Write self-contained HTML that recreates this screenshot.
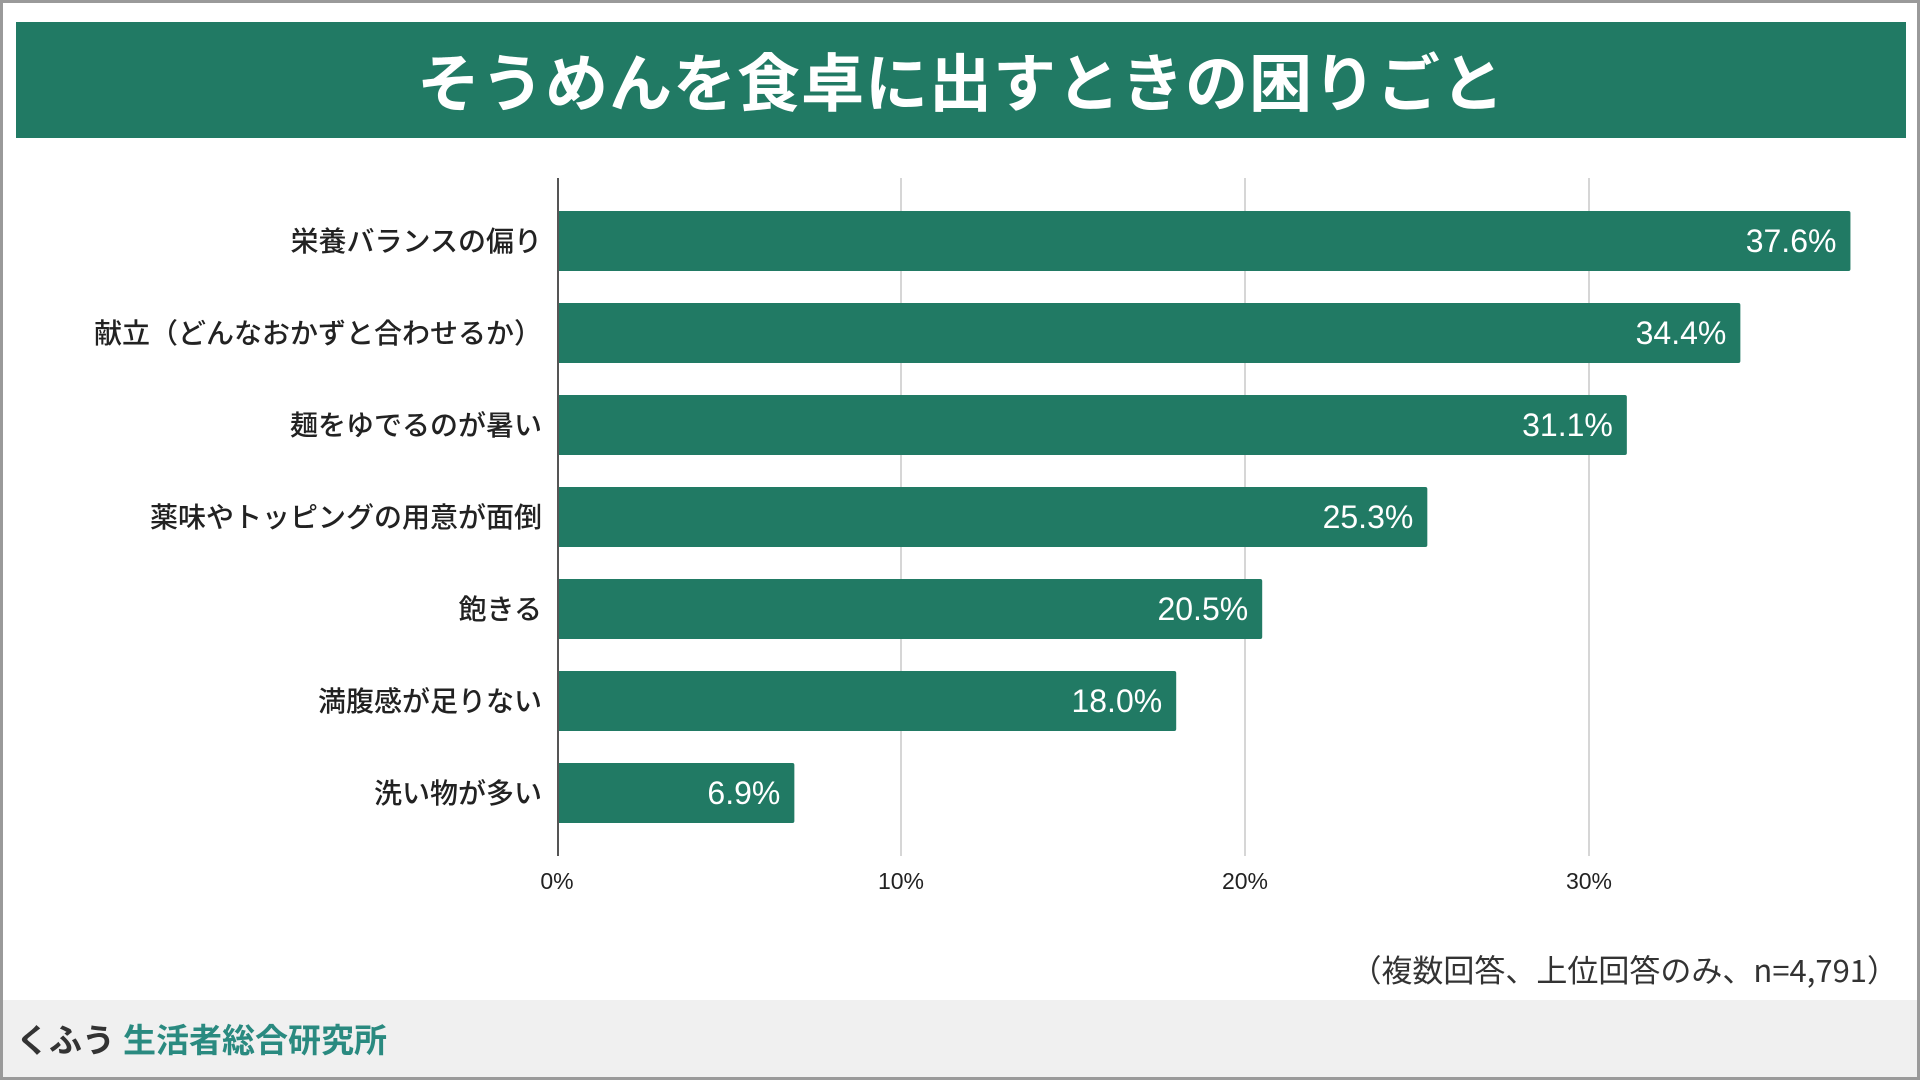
<!DOCTYPE html>
<html><head><meta charset="utf-8">
<style>
html,body{margin:0;padding:0;width:1920px;height:1080px;overflow:hidden;background:#fff;font-family:"Liberation Sans","Noto Sans CJK JP",sans-serif;}
#frame{position:absolute;left:0;top:0;width:1914px;height:1074px;border:3px solid #9a9a9a;background:#fff;}
#title{position:absolute;left:13px;top:19px;width:1890px;height:116px;background:#217a64;color:#fff;font-size:63px;font-weight:bold;text-align:center;line-height:116px;letter-spacing:1px;font-family:"Noto Sans CJK JP",sans-serif;}
#footer{position:absolute;left:0;top:997px;width:1914px;height:77px;background:#f0f0f0;}
#footer span{position:absolute;left:13px;top:16px;font-size:33px;font-weight:bold;font-family:"Noto Sans CJK JP",sans-serif;line-height:44px;}
</style></head><body>
<div id="frame">
<div id="title">そうめんを食卓に出すときの困りごと</div>
<svg id="chart" width="1914" height="990" style="position:absolute;left:0;top:0"></svg>
<div id="footer"><span><span style="position:static;color:#333">くふう</span><span style="position:static;color:#2a8a80;margin-left:8px">生活者総合研究所</span></span></div>
</div>
<script>
const categories=["栄養バランスの偏り","献立（どんなおかずと合わせるか）","麺をゆでるのが暑い","薬味やトッピングの用意が面倒","飽きる","満腹感が足りない","洗い物が多い"];
const values=[37.6,34.4,31.1,25.3,20.5,18.0,6.9];
const tickValues=[0,10,20,30];
const tickLabels=["0%","10%","20%","30%"];
const NS="http://www.w3.org/2000/svg";
const svg=document.getElementById("chart");
const x0=554,pxPer=34.4,top0=175,bottom0=853,step=92,firstC=238,barH=60;
function xs(v){return x0+v*pxPer;}
function yc(i){return firstC+i*step;}
function mk(t,a){const e=document.createElementNS(NS,t);for(const k in a)e.setAttribute(k,a[k]);svg.appendChild(e);return e;}
tickValues.forEach((v,i)=>{
  if(v>0){const g=mk("line",{x1:xs(v),x2:xs(v),y1:top0,y2:bottom0,stroke:"#d6d6d6","stroke-width":2});
  
  }
  const t=mk("text",{x:xs(v),y:886,"text-anchor":"middle","font-size":23,fill:"#222"});
  t.textContent=tickLabels[i];
  
  
});
categories.forEach((c,i)=>{
  const r=mk("rect",{x:xs(0),y:yc(i)-barH/2,width:xs(values[i])-xs(0),height:barH,fill:"#217a64",rx:2});
  
  
  const l=mk("text",{x:539,y:yc(i)+10,"text-anchor":"end","font-size":28,fill:"#222","font-weight":500,"font-family":"Noto Sans CJK JP, sans-serif"});
  l.textContent=c;
  
  
  const v=mk("text",{x:xs(values[i])-14,y:yc(i)+11,"text-anchor":"end","font-size":32,fill:"#fff"});
  v.textContent=values[i].toFixed(1)+"%";
  
  
});
const ax=mk("line",{x1:x0+1,x2:x0+1,y1:top0,y2:bottom0,stroke:"#555","stroke-width":2});


const n=mk("text",{x:1895,y:979,"text-anchor":"end","font-size":31,fill:"#333","font-family":"Noto Sans CJK JP, sans-serif"});
n.textContent="（複数回答、上位回答のみ、n=4,791）";


</script>
</body></html>
